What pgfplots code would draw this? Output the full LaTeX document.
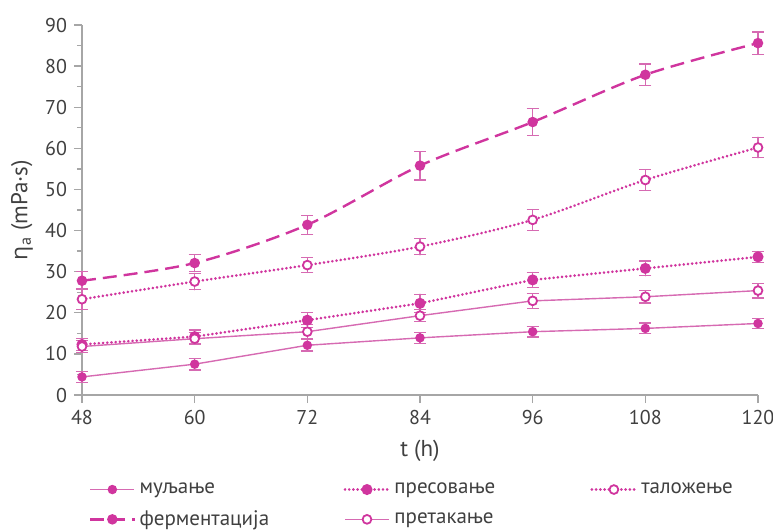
\documentclass[border=0pt]{standalone}
\usepackage{pgfplots}
\usepackage{pgfplotstable}
\pgfplotsset{compat=1.18}
\usepackage{fontspec}
\setmainfont{PT Sans}
\newfontfamily\grk{Open Sans}

\definecolor{mag}{HTML}{D0359E}
\definecolor{magl}{HTML}{D66AB2}
\definecolor{axgray}{HTML}{A6A6A6}
\definecolor{txt}{HTML}{404040}

% viscosity vs. time: t, mean, standard deviation
\pgfplotstableread{
t y e
48 4.4 1.3
60 7.5 1.4
72 12.1 1.4
84 13.9 1.3
96 15.4 1.3
108 16.2 1.3
120 17.4 1.2
}\mulj
\pgfplotstableread{
t y e
48 12.3 1.5
60 14.2 1.6
72 18.2 1.8
84 22.3 2.2
96 28.0 1.8
108 30.8 1.8
120 33.6 1.3
}\pres
\pgfplotstableread{
t y e
48 23.3 2.5
60 27.6 2.0
72 31.6 1.8
84 36.1 2.0
96 42.6 2.5
108 52.3 2.5
120 60.2 2.5
}\talo
\pgfplotstableread{
t y e
48 27.8 2.2
60 32.1 2.0
72 41.4 2.3
84 55.8 3.5
96 66.4 3.2
108 77.9 2.6
120 85.6 2.7
}\ferm
\pgfplotstableread{
t y e
48 11.8 1.5
60 13.7 1.5
72 15.4 1.8
84 19.3 1.5
96 22.9 1.8
108 23.9 1.5
120 25.4 1.8
}\pret

\pgfplotsset{
  eb/.style={error bars/.cd, y dir=both, y explicit,
    error bar style={magl, line width=0.6pt, solid},
    error mark options={rotate=90, mark size=3pt, magl, line width=0.6pt, solid}},
  fullmark/.style={mark=*, mark size=2pt, mark options={solid, fill=mag, draw=mag}},
  openmark/.style={mark=*, mark size=2.2pt, mark options={solid, fill=white, draw=mag, line width=0.9pt}},
  dotline/.style={mag, line width=1.45pt, line cap=round, dash pattern=on 0.01pt off 2.1pt},
}

\begin{document}
\begin{tikzpicture}
\begin{axis}[
  name=ax,
  scale only axis,
  width=338pt, height=185pt,
  xmin=48, xmax=120, ymin=0, ymax=90,
  axis lines*=left,
  axis line style={axgray, line width=0.8pt},
  xtick={48,60,...,120},
  ytick={0,10,...,90},
  minor y tick num=1,
  tick align=outside,
  major tick length=4pt,
  minor tick length=2.5pt,
  tick style={axgray, line width=0.7pt},
  every tick label/.append style={font=\fontsize{10}{12}\selectfont, text=txt},
  /pgf/number format/assume math mode=true,
  xlabel={t (h)},
  ylabel={{\grk η}\textsubscript{a} (mPa·s)},
  label style={font=\fontsize{11.5}{13}\selectfont, text=txt},
  xlabel style={at={(axis description cs:0.5,-0.152)}, anchor=center},
  ylabel style={at={(axis description cs:-0.089,0.5)}, anchor=center},
  clip=false,
  legend columns=3,
  legend cell align=left,
  legend style={at={(axis description cs:0.010,-0.225)}, anchor=north west,
    draw=none, fill=none, inner sep=0pt,
    font=\fontsize{10.5}{12}\selectfont, text=txt,
    row sep=3pt},
  legend image code/.code={
    \draw[mark repeat=2, mark phase=2, #1]
      plot coordinates {(0pt,0pt) (11pt,0pt) (22pt,0pt)};},
]
\addplot[magl, line width=0.7pt, fullmark, eb] table[x=t, y=y, y error=e] {\mulj};
\addlegendentry{\makebox[100pt][l]{муљање}}
\addplot[dotline, fullmark, eb] table[x=t, y=y, y error=e] {\pres};
\addlegendentry{\makebox[96pt][l]{пресовање}}
\addplot[dotline, smooth, openmark, eb] table[x=t, y=y, y error=e] {\talo};
\addlegendentry{таложење}
\addplot[mag, line width=1.2pt, dash pattern=on 7pt off 3.5pt, smooth, fullmark, eb] table[x=t, y=y, y error=e] {\ferm};
\addlegendentry{\makebox[100pt][l]{ферментација}}
\addplot[magl, line width=0.7pt, openmark, eb] table[x=t, y=y, y error=e] {\pret};
\addlegendentry{\makebox[96pt][l]{претакање}}
\end{axis}
\pgfresetboundingbox
\path[use as bounding box] ([shift={(-41pt,-67.5pt)}]ax.south west) rectangle ([shift={(7.5pt,12.5pt)}]ax.north east);
\end{tikzpicture}
\end{document}
